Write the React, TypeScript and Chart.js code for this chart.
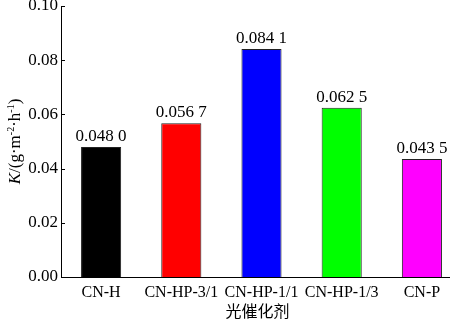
import React, { useEffect, useRef } from "react";
import { Chart, registerables } from "chart.js";

Chart.register(...registerables);

const categories = ["CN-H", "CN-HP-3/1", "CN-HP-1/1", "CN-HP-1/3", "CN-P"];
const values = [0.048, 0.0567, 0.0841, 0.0625, 0.0435];
const valueLabels = ["0.048 0", "0.056 7", "0.084 1", "0.062 5", "0.043 5"];
const barColors = ["#000000", "#ff0000", "#0000ff", "#00ff00", "#ff00ff"];
const yMin = 0;
const yMax = 0.1;
const yStep = 0.02;
const xTitle = "光催化剂";

const SERIF = "'Liberation Serif', 'Times New Roman', serif";

const innerTicks = {
  id: "innerTicks",
  afterDraw(chart: any) {
    const ctx = chart.ctx;
    const ys = chart.scales.y;
    const left = chart.chartArea.left;
    ctx.save();
    ctx.strokeStyle = "#000";
    ctx.lineWidth = 1;
    ys.ticks.forEach((t: any) => {
      const y = Math.round(ys.getPixelForValue(t.value)) + 0.5;
      ctx.beginPath();
      ctx.moveTo(left, y);
      ctx.lineTo(left + 4, y);
      ctx.stroke();
    });
    ctx.restore();
  },
};

const valueLabelPlugin = {
  id: "valueLabels",
  afterDatasetsDraw(chart: any) {
    const ctx = chart.ctx;
    const meta = chart.getDatasetMeta(0);
    ctx.save();
    ctx.font = `17px ${SERIF}`;
    ctx.fillStyle = "#000";
    ctx.textAlign = "center";
    ctx.textBaseline = "alphabetic";
    meta.data.forEach((bar: any, i: number) => {
      ctx.fillText(valueLabels[i], bar.x, bar.y - 6);
    });
    ctx.restore();
  },
};

const titlesPlugin = {
  id: "titles",
  afterDraw(chart: any) {
    const ctx = chart.ctx;
    const area = chart.chartArea;
    ctx.save();
    ctx.fillStyle = "#000";
    // x title
    ctx.font = "16px 'Noto Sans CJK SC'";
    ctx.textAlign = "center";
    ctx.textBaseline = "middle";
    ctx.fillText(xTitle, (area.left + area.right) / 2 - 4, 311);

    // y title with mixed styles
    const parts: { t: string; font: string; dy: number }[] = [
      { t: "K", font: `italic 17px ${SERIF}`, dy: 0 },
      { t: "/(g·m", font: `17px ${SERIF}`, dy: 0 },
      { t: "-2", font: `10px ${SERIF}`, dy: -6 },
      { t: "·h", font: `17px ${SERIF}`, dy: 0 },
      { t: "-1", font: `10px ${SERIF}`, dy: -6 },
      { t: ")", font: `17px ${SERIF}`, dy: 0 },
    ];
    let total = 0;
    parts.forEach((p) => {
      ctx.font = p.font;
      total += ctx.measureText(p.t).width;
    });
    const cy = (area.top + area.bottom) / 2;
    ctx.translate(20, cy);
    ctx.rotate(-Math.PI / 2);
    ctx.textAlign = "left";
    ctx.textBaseline = "alphabetic";
    let x = -total / 2;
    parts.forEach((p) => {
      ctx.font = p.font;
      ctx.fillText(p.t, x, p.dy);
      x += ctx.measureText(p.t).width;
    });
    ctx.restore();
  },
};

export default function App() {
  const ref = useRef<HTMLCanvasElement>(null);
  useEffect(() => {
    if (!ref.current) return;
    const chart = new Chart(ref.current, {
      type: "bar",
      data: {
        labels: categories,
        datasets: [
          {
            data: values,
            backgroundColor: barColors,
            borderColor: "#222",
            borderWidth: 1,
            categoryPercentage: 1,
            barPercentage: 0.5,
          },
        ],
      },
      options: {
        responsive: false,
        animation: false,
        devicePixelRatio: 1,
        layout: { padding: { top: 6, left: 0, right: 0, bottom: 0 } },
        plugins: { legend: { display: false }, tooltip: { enabled: false } },
        scales: {
          x: {
            grid: { display: false, drawTicks: false },
            border: { display: true, color: "#000", width: 1 },
            ticks: {
              color: "#000",
              font: { family: SERIF, size: 16 },
              padding: 6,
              maxRotation: 0,
              autoSkip: false,
            },
            afterFit(scale: any) {
              scale.height = 44;
              scale.paddingLeft = 0;
              scale.paddingRight = 0;
            },
          },
          y: {
            min: yMin,
            max: yMax,
            grid: { display: false, drawTicks: false },
            border: { display: true, color: "#000", width: 1 },
            ticks: {
              stepSize: yStep,
              color: "#000",
              font: { family: SERIF, size: 17 },
              padding: 3,
              callback: (v: any) => Number(v).toFixed(2),
            },
            afterFit(scale: any) {
              scale.width = 61;
              scale.paddingTop = 0;
              scale.paddingBottom = 0;
            },
          },
        },
      },
      plugins: [innerTicks, valueLabelPlugin, titlesPlugin],
    });
    return () => chart.destroy();
  }, []);
  return (
    <div
      style={{
        position: "fixed",
        left: 0,
        top: 0,
        width: 450,
        height: 321,
        overflow: "hidden",
        background: "#fff",
      }}
    >
      <canvas ref={ref} width={462} height={321} style={{ display: "block" }} />
    </div>
  );
}
